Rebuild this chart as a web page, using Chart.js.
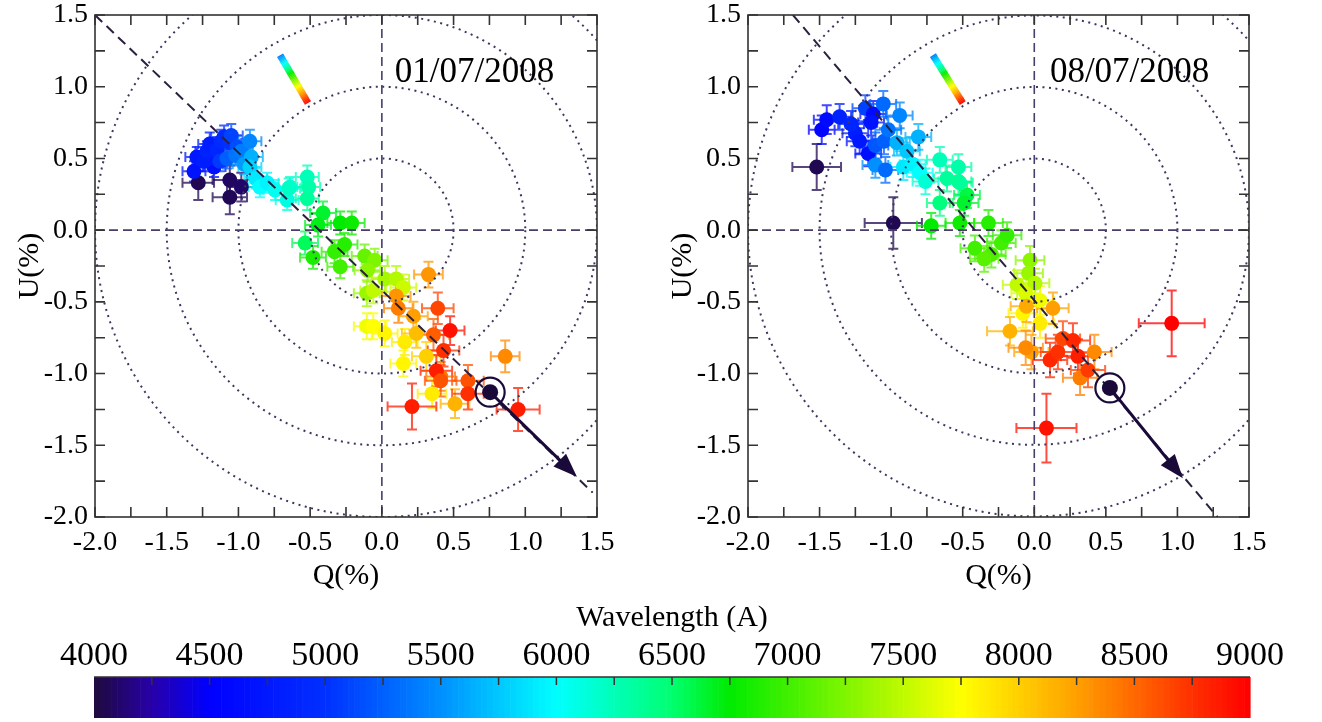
<!DOCTYPE html>
<html>
<head>
<meta charset="utf-8">
<script src="https://cdn.jsdelivr.net/npm/chart.js@4.4.1/dist/chart.umd.min.js"></script>
<style>
  body { margin: 0; background: #fff; width: 1322px; height: 722px; overflow: hidden; position: relative; }
  canvas { position: absolute; }
  #left { left: 0; top: 0; }
  #right { left: 661px; top: 0; }
  #cbar { left: 0; top: 590px; }
</style>
</head>
<body>
<canvas id="left" width="661" height="610"></canvas>
<canvas id="right" width="661" height="610"></canvas>
<canvas id="cbar" width="1322" height="132"></canvas>
<script>
// ---- 01/07/2008 : Q, U (%), errors and wavelength (A) of each point
var q1 = [-1.28, -1.06, -0.98, -1.06,
  -1.31, -1.17, -1.29, -1.18, -1.24, -1.22, -1.20, -1.15, -1.10, -1.12, -1.06, -1.13, -1.05, -1.01, -1.08, -1.02, -0.98, -0.92, -0.96, -0.91,
  -0.92, -0.88, -0.85, -0.80, -0.745, -0.66, -0.64, -0.65, -0.52, -0.51, -0.52,
  -0.41, -0.445, -0.29, -0.21, -0.535, -0.48, -0.26, -0.33, -0.29, -0.12, -0.05, -0.10, -0.105, 0.02, 0.10, 0.15, -0.06,
  -0.105, -0.06, 0.02, 0.16, 0.15, 0.35, 0.31, 0.24,
  0.10, 0.115, 0.22, 0.325, 0.51, 0.86, 0.41,
  0.39, 0.476, 0.36, 0.43, 0.38, 0.41, 0.60, 0.60, 0.21, 0.95];
var u1 = [0.33, 0.35, 0.30, 0.23,
  0.41, 0.44, 0.51, 0.50, 0.48, 0.55, 0.60, 0.56, 0.65, 0.62, 0.61, 0.48, 0.66, 0.58, 0.50, 0.52, 0.55, 0.62, 0.46, 0.51,
  0.44, 0.36, 0.30, 0.33, 0.28, 0.21, 0.30, 0.29, 0.37, 0.30, 0.22,
  0.12, 0.035, 0.05, 0.05, -0.09, -0.19, -0.10, -0.15, -0.255, -0.18, -0.21, -0.28, -0.44, -0.34, -0.34, -0.40, -0.42,
  -0.67, -0.67, -0.72, -0.78, -0.93, -1.14, -0.88, -0.72,
  -0.46, -0.545, -0.60, -0.31, -1.21, -0.88, -1.02,
  -0.545, -0.70, -0.73, -0.84, -0.98, -1.05, -1.05, -1.14, -1.23, -1.25];
var dq1 = [0.11, 0.12, 0.10, 0.12,
  0.08, 0.08, 0.08, 0.08, 0.08, 0.08, 0.08, 0.08, 0.09, 0.08, 0.08, 0.08, 0.08, 0.08, 0.08, 0.08, 0.08, 0.08, 0.08, 0.08,
  0.08, 0.08, 0.08, 0.08, 0.08, 0.08, 0.08, 0.08, 0.08, 0.08, 0.08,
  0.09, 0.09, 0.09, 0.09, 0.09, 0.09, 0.09, 0.09, 0.09, 0.09, 0.09, 0.09, 0.09, 0.09, 0.09, 0.09, 0.09,
  0.09, 0.09, 0.09, 0.09, 0.09, 0.10, 0.10, 0.10,
  0.10, 0.10, 0.10, 0.10, 0.10, 0.10, 0.10,
  0.11, 0.10, 0.11, 0.11, 0.11, 0.11, 0.11, 0.11, 0.17, 0.15];
var du1 = [0.12, 0.10, 0.10, 0.12,
  0.07, 0.07, 0.07, 0.07, 0.07, 0.07, 0.08, 0.08, 0.08, 0.08, 0.08, 0.07, 0.08, 0.08, 0.07, 0.07, 0.08, 0.08, 0.07, 0.08,
  0.07, 0.07, 0.07, 0.07, 0.07, 0.07, 0.07, 0.07, 0.08, 0.08, 0.08,
  0.08, 0.08, 0.08, 0.08, 0.08, 0.08, 0.08, 0.08, 0.08, 0.08, 0.08, 0.08, 0.09, 0.09, 0.09, 0.09, 0.09,
  0.09, 0.09, 0.09, 0.09, 0.09, 0.10, 0.10, 0.10,
  0.10, 0.10, 0.10, 0.09, 0.10, 0.11, 0.10,
  0.11, 0.10, 0.11, 0.11, 0.11, 0.11, 0.11, 0.11, 0.16, 0.15];
var wl1 = [4050, 4080, 4100, 4060,
  4700, 4650, 4750, 4750, 4800, 4850, 4800, 4900, 4950, 4950, 5000, 5050, 5100, 5150, 5250, 5350, 5400, 5450, 5550, 5650,
  5800, 5900, 6000, 5950, 6050, 6100, 6150, 6200, 6250, 6300, 6350,
  6650, 6700, 6750, 6800, 6550, 6850, 6900, 6950, 7000, 7150, 7250, 7300, 7350, 7400, 7450, 7550, 7500,
  7700, 7750, 7800, 7850, 7800, 7850, 8000, 8100,
  8300, 8400, 8250, 8300, 8150, 8350, 8450,
  8650, 8900, 8550, 8750, 8850, 8600, 8600, 8750, 8850, 8850];

// ---- 08/07/2008
var q2 = [-1.52, -0.985,
  -1.485, -1.45, -1.36, -1.25, -1.28, -1.18, -1.125, -1.14, -1.055, -0.94, -1.16, -1.11, -1.04, -1.11, -1.05, -0.96, -0.89, -0.81, -1.22, -1.02,
  -0.915, -0.85, -0.80, -0.76, -0.66, -0.53, -0.61, -0.53, -0.47, -0.66, -0.52,
  -0.72, -0.52, -0.32, -0.49, -0.415, -0.30, -0.23, -0.19, -0.35,
  -0.03, -0.04, -0.12, 0.005, -0.06, 0.04, 0.04, -0.08,
  -0.055, 0.13, -0.17, -0.02, -0.06, 0.42, 0.32,
  0.11, 0.165, 0.20, 0.27, 0.305, 0.375, 0.96, 0.085];
var u2 = [0.44, 0.05,
  0.70, 0.77, 0.79, 0.675, 0.74, 0.85, 0.81, 0.75, 0.88, 0.80, 0.535, 0.455, 0.42, 0.59, 0.62, 0.61, 0.55, 0.65, 0.62, 0.70,
  0.44, 0.46, 0.40, 0.34, 0.49, 0.44, 0.36, 0.34, 0.245, 0.19, 0.33,
  0.03, 0.05, 0.05, 0.19, -0.127, -0.17, -0.09, -0.035, -0.20,
  -0.21, -0.30, -0.38, -0.37, -0.44, -0.49, -0.65, -0.58,
  -0.53, -0.545, -0.705, -0.85, -0.82, -0.85, -1.03,
  -0.905, -0.85, -0.755, -0.77, -0.88, -0.975, -0.65, -1.38];
var dq2 = [0.17, 0.20,
  0.09, 0.09, 0.09, 0.09, 0.09, 0.09, 0.09, 0.09, 0.09, 0.09, 0.09, 0.09, 0.09, 0.09, 0.09, 0.09, 0.09, 0.09, 0.09, 0.09,
  0.09, 0.09, 0.09, 0.09, 0.09, 0.09, 0.09, 0.09, 0.09, 0.09, 0.09,
  0.10, 0.10, 0.10, 0.10, 0.10, 0.10, 0.10, 0.10, 0.10,
  0.10, 0.10, 0.10, 0.10, 0.10, 0.10, 0.10, 0.10,
  0.11, 0.11, 0.16, 0.12, 0.12, 0.12, 0.12,
  0.12, 0.12, 0.12, 0.12, 0.12, 0.12, 0.23, 0.21];
var du2 = [0.16, 0.18,
  0.10, 0.10, 0.09, 0.09, 0.09, 0.09, 0.09, 0.09, 0.09, 0.09, 0.09, 0.09, 0.09, 0.09, 0.09, 0.09, 0.09, 0.09, 0.09, 0.09,
  0.09, 0.09, 0.09, 0.09, 0.09, 0.09, 0.09, 0.09, 0.09, 0.09, 0.09,
  0.09, 0.09, 0.09, 0.09, 0.09, 0.09, 0.09, 0.09, 0.09,
  0.10, 0.10, 0.10, 0.10, 0.10, 0.10, 0.10, 0.10,
  0.11, 0.11, 0.10, 0.12, 0.12, 0.12, 0.12,
  0.12, 0.12, 0.12, 0.12, 0.12, 0.12, 0.23, 0.24];
var wl2 = [4050, 4050,
  4550, 4600, 4850, 4800, 4900, 5100, 4600, 4700, 5300, 5450, 4650, 5500, 5300, 5200, 5250, 5650, 5750, 5650, 4750, 5350,
  5900, 5950, 6000, 6150, 6250, 6300, 6350, 6400, 6600, 6450, 6350,
  6750, 6800, 6900, 6650, 7000, 7050, 7000, 6950, 7100,
  7300, 7350, 7500, 7450, 7600, 7700, 7850, 7800,
  8200, 8250, 8150, 8250, 8350, 8350, 8400,
  8800, 8750, 8650, 8800, 8850, 8700, 9000, 8900];

// mean polarisation point, arrow tip and dominant axis line of each date
var mean1 = [0.755, -1.13], tip1 = [1.36, -1.72], axis1 = [[-2.0, 1.5], [1.47, -1.83]];
var mean2 = [0.528, -1.10], tip2 = [1.038, -1.73], axis2 = [[-1.686, 1.5], [1.28, -2.0]];
var radii = [0.5, 1.0, 1.5, 2.0];

// colour scale
var cmapW = [4000, 4250, 4500, 5000, 5500, 6000, 6500, 6750, 7750, 8250, 8750, 9000];
var cmapC = [[30, 10, 60], [40, 0, 168], [0, 0, 255], [0, 48, 255], [0, 144, 255], [0, 255, 255],
  [0, 255, 112], [0, 235, 0], [255, 255, 0], [255, 160, 0], [255, 48, 0], [255, 0, 0]];
var cbTicks = [4000, 4500, 5000, 5500, 6000, 6500, 7000, 7500, 8000, 8500, 9000];

var FONT = "'Liberation Serif', 'DejaVu Serif', serif";
Chart.defaults.font.family = FONT;

function wlColor(w, a) {
  if (a === undefined) a = 1;
  var i = 0;
  while (i < cmapW.length - 2 && w > cmapW[i + 1]) i++;
  var t = Math.max(0, Math.min(1, (w - cmapW[i]) / (cmapW[i + 1] - cmapW[i])));
  var c = cmapC[i].map(function (v, k) { return Math.round(v + (cmapC[i + 1][k] - v) * t); });
  return "rgba(" + c[0] + "," + c[1] + "," + c[2] + "," + a + ")";
}

function makePanel(id, q, u, dq, du, wl, p) {
  var backPlugin = {
    id: "errbars",
    beforeDatasetsDraw: function (chart) {
      var ctx = chart.ctx, x = chart.scales.x, y = chart.scales.y;
      ctx.save();
      ctx.lineWidth = 2;
      for (var i = 0; i < q.length; i++) {
        var px = x.getPixelForValue(q[i]), py = y.getPixelForValue(u[i]);
        var x0 = x.getPixelForValue(q[i] - dq[i]), x1 = x.getPixelForValue(q[i] + dq[i]);
        var y0 = y.getPixelForValue(u[i] - du[i]), y1 = y.getPixelForValue(u[i] + du[i]);
        ctx.strokeStyle = wlColor(wl[i], 0.75);
        ctx.beginPath();
        ctx.moveTo(x0, py); ctx.lineTo(x1, py);
        ctx.moveTo(x0, py - 5); ctx.lineTo(x0, py + 5);
        ctx.moveTo(x1, py - 5); ctx.lineTo(x1, py + 5);
        ctx.moveTo(px, y0); ctx.lineTo(px, y1);
        ctx.moveTo(px - 5, y0); ctx.lineTo(px + 5, y0);
        ctx.moveTo(px - 5, y1); ctx.lineTo(px + 5, y1);
        ctx.stroke();
      }
      ctx.restore();
    }
  };
  var frontPlugin = {
    id: "overlay",
    afterDatasetsDraw: function (chart) {
      var ctx = chart.ctx, x = chart.scales.x, y = chart.scales.y, a = chart.chartArea;
      ctx.save();
      ctx.beginPath();
      ctx.rect(a.left, a.top, a.right - a.left, a.bottom - a.top);
      ctx.clip();
      // dotted circles
      var ox = x.getPixelForValue(0), oy = y.getPixelForValue(0);
      ctx.strokeStyle = "#3c3660";
      ctx.lineWidth = 2;
      ctx.setLineDash([2, 4.5]);
      radii.forEach(function (r) {
        ctx.beginPath();
        ctx.arc(ox, oy, x.getPixelForValue(r) - ox, 0, Math.PI * 2);
        ctx.stroke();
      });
      // dashed zero lines
      ctx.strokeStyle = "#4a3d6b";
      ctx.lineWidth = 1.6;
      ctx.setLineDash([9, 5]);
      ctx.beginPath();
      ctx.moveTo(ox, a.top); ctx.lineTo(ox, a.bottom);
      ctx.moveTo(a.left, oy); ctx.lineTo(a.right, oy);
      ctx.stroke();
      // dominant axis
      ctx.strokeStyle = "#2a2040";
      ctx.lineWidth = 2;
      ctx.setLineDash([10, 6]);
      ctx.beginPath();
      ctx.moveTo(x.getPixelForValue(p.axis[0][0]), y.getPixelForValue(p.axis[0][1]));
      ctx.lineTo(x.getPixelForValue(p.axis[1][0]), y.getPixelForValue(p.axis[1][1]));
      ctx.stroke();
      ctx.setLineDash([]);
      // small rainbow bar
      var b0 = [x.getPixelForValue(p.bar[0][0]), y.getPixelForValue(p.bar[0][1])];
      var b1 = [x.getPixelForValue(p.bar[1][0]), y.getPixelForValue(p.bar[1][1])];
      ctx.lineWidth = 7;
      for (var k = 0; k < 40; k++) {
        var t0 = k / 40, t1 = (k + 1.2) / 40;
        ctx.strokeStyle = wlColor(5400 + (9000 - 5400) * (k + 0.5) / 40);
        ctx.beginPath();
        ctx.moveTo(b0[0] + (b1[0] - b0[0]) * t0, b0[1] + (b1[1] - b0[1]) * t0);
        ctx.lineTo(b0[0] + (b1[0] - b0[0]) * Math.min(1, t1), b0[1] + (b1[1] - b0[1]) * Math.min(1, t1));
        ctx.stroke();
      }
      // mean point, ring and arrow
      var mx = x.getPixelForValue(p.mean[0]), my = y.getPixelForValue(p.mean[1]);
      var tx = x.getPixelForValue(p.tip[0]), ty = y.getPixelForValue(p.tip[1]);
      var ang = Math.atan2(ty - my, tx - mx);
      ctx.fillStyle = "#1a0a3a";
      ctx.strokeStyle = "#1a0a3a";
      ctx.lineWidth = 3;
      ctx.beginPath();
      ctx.moveTo(mx, my);
      ctx.lineTo(tx - 20 * Math.cos(ang), ty - 20 * Math.sin(ang));
      ctx.stroke();
      ctx.beginPath();
      ctx.moveTo(tx, ty);
      ctx.lineTo(tx - 24 * Math.cos(ang) + 9 * Math.sin(ang), ty - 24 * Math.sin(ang) - 9 * Math.cos(ang));
      ctx.lineTo(tx - 24 * Math.cos(ang) - 9 * Math.sin(ang), ty - 24 * Math.sin(ang) + 9 * Math.cos(ang));
      ctx.closePath();
      ctx.fill();
      ctx.beginPath();
      ctx.arc(mx, my, 8, 0, Math.PI * 2);
      ctx.fill();
      ctx.lineWidth = 2.2;
      ctx.beginPath();
      ctx.arc(mx, my, 14.5, 0, Math.PI * 2);
      ctx.stroke();
      ctx.restore();

      // frame and inner ticks
      ctx.save();
      ctx.strokeStyle = "#333";
      ctx.lineWidth = 1.6;
      ctx.strokeRect(a.left, a.top, a.right - a.left, a.bottom - a.top);
      ctx.beginPath();
      for (var v = -2; v <= 1.5001; v += 0.25) {
        var tX = x.getPixelForValue(v), tY = y.getPixelForValue(v);
        ctx.moveTo(tX, a.bottom); ctx.lineTo(tX, a.bottom - 10);
        ctx.moveTo(tX, a.top); ctx.lineTo(tX, a.top + 10);
        ctx.moveTo(a.left, tY); ctx.lineTo(a.left + 10, tY);
        ctx.moveTo(a.right, tY); ctx.lineTo(a.right - 10, tY);
      }
      ctx.stroke();
      // date
      ctx.fillStyle = "#000";
      ctx.font = "35px " + FONT;
      ctx.textAlign = "left";
      ctx.textBaseline = "middle";
      ctx.fillText(p.date, x.getPixelForValue(p.datePos[0]), y.getPixelForValue(p.datePos[1]));
      ctx.restore();
    }
  };

  var pts = q.map(function (v, i) { return { x: v, y: u[i] }; });
  return new Chart(document.getElementById(id), {
    type: "scatter",
    data: {
      datasets: [{
        data: pts,
        backgroundColor: wl.map(function (w) { return wlColor(w); }),
        pointRadius: 7.5,
        pointBorderWidth: 0,
        borderWidth: 0
      }]
    },
    options: {
      responsive: false,
      animation: false,
      events: [],
      layout: { padding: { left: 0, top: 15, right: p.padRight, bottom: 0 } },
      plugins: { legend: { display: false }, tooltip: { enabled: false } },
      scales: {
        x: {
          type: "linear", min: -2, max: 1.5,
          afterFit: function (s) { s.height = 93; s.paddingLeft = 0; s.paddingRight = 0; },
          grid: { display: false, drawTicks: false },
          border: { display: false },
          ticks: { stepSize: 0.5, padding: 9, color: "#000", font: { size: 28 },
            callback: function (v) { return v.toFixed(1); } },
          title: { display: true, text: "Q(%)", color: "#000", font: { size: 30 }, padding: { top: 0, bottom: 16 } }
        },
        y: {
          type: "linear", min: -2, max: 1.5,
          afterFit: function (s) { s.width = p.yWidth; s.paddingTop = 0; s.paddingBottom = 0; },
          grid: { display: false, drawTicks: false },
          border: { display: false },
          ticks: { stepSize: 0.5, padding: 7, color: "#000", font: { size: 28 },
            callback: function (v) { return v.toFixed(1); } },
          title: { display: true, text: "U(%)", color: "#000", font: { size: 30 }, padding: { top: p.yTitlePad, bottom: 0 } }
        }
      }
    },
    plugins: [backPlugin, frontPlugin]
  });
}

makePanel("left", q1, u1, dq1, du1, wl1, {
  mean: mean1, tip: tip1, axis: axis1, bar: [[-0.71, 1.22], [-0.515, 0.886]],
  date: "01/07/2008", datePos: [0.09, 1.095], padRight: 64, yWidth: 95, yTitlePad: 12
});
makePanel("right", q2, u2, dq2, du2, wl2, {
  mean: mean2, tip: tip2, axis: axis2, bar: [[-0.708, 1.22], [-0.50, 0.886]],
  date: "08/07/2008", datePos: [0.109, 1.095], padRight: 73, yWidth: 87, yTitlePad: 4
});

// colour bar
var barPlugin = {
  id: "bar",
  afterDraw: function (chart) {
    var ctx = chart.ctx, x = chart.scales.x, a = chart.chartArea;
    ctx.save();
    for (var w = 4000; w < 9000; w += 25) {
      var x0 = x.getPixelForValue(w), x1 = x.getPixelForValue(w + 25);
      ctx.fillStyle = wlColor(w + 12.5);
      ctx.fillRect(x0, a.top, x1 - x0 + 0.6, a.bottom - a.top);
    }
    ctx.strokeStyle = "#333";
    ctx.lineWidth = 1.5;
    ctx.beginPath();
    ctx.moveTo(a.left, a.top); ctx.lineTo(a.right, a.top);
    for (var t = 4250; t < 9000; t += 250) {
      var tx = x.getPixelForValue(t);
      ctx.moveTo(tx, a.top); ctx.lineTo(tx, a.top + 8);
    }
    ctx.stroke();
    ctx.restore();
  }
};
new Chart(document.getElementById("cbar"), {
  type: "scatter",
  data: { datasets: [{ data: [] }] },
  options: {
    responsive: false,
    animation: false,
    events: [],
    layout: { padding: { left: 94, right: 72, top: 0, bottom: 4 } },
    plugins: { legend: { display: false }, tooltip: { enabled: false } },
    scales: {
      x: {
        type: "linear", position: "top", min: 4000, max: 9000,
        afterFit: function (s) { s.height = 87; s.paddingLeft = 0; s.paddingRight = 0; },
        afterBuildTicks: function (s) { s.ticks = cbTicks.map(function (v) { return { value: v }; }); },
        grid: { display: false, drawTicks: false },
        border: { display: false },
        ticks: { padding: 1, color: "#000", font: { size: 34 }, callback: function (v) { return String(v); } },
        title: { display: true, text: "Wavelength (A)", color: "#000", font: { size: 30 }, padding: { top: 10, bottom: 0 } }
      },
      y: { display: false, min: 0, max: 1 }
    }
  },
  plugins: [barPlugin]
});
</script>
</body>
</html>
